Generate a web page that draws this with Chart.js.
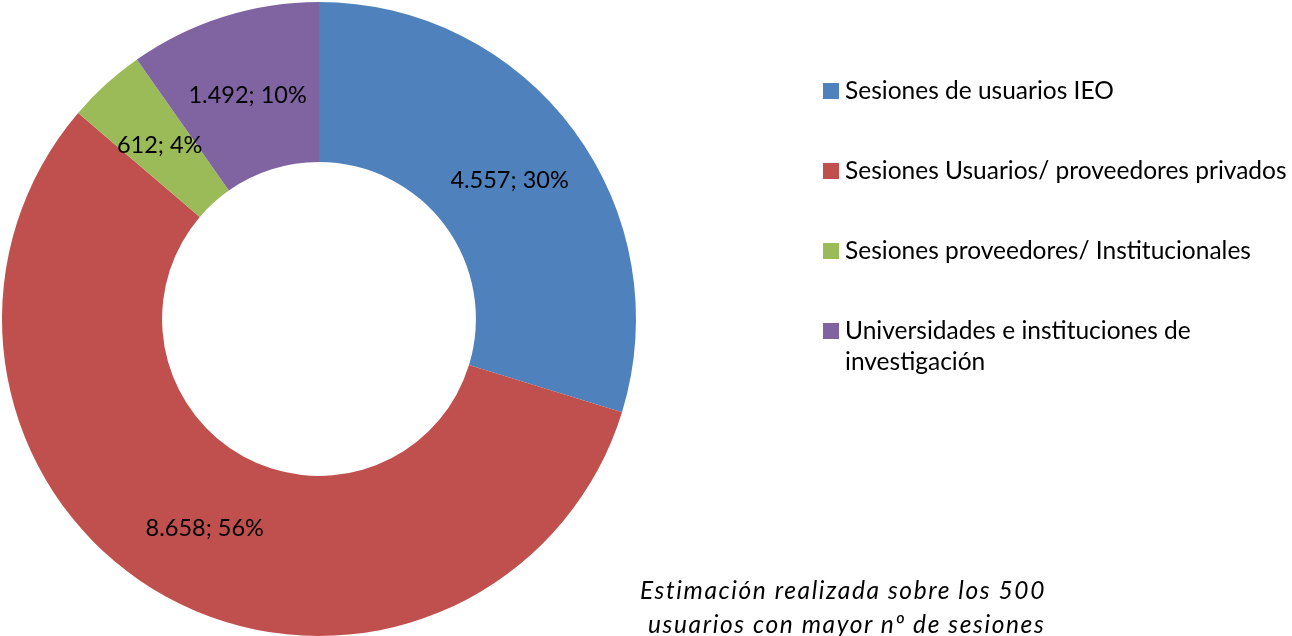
<!DOCTYPE html>
<html><head><meta charset="utf-8">
<script src="https://cdn.jsdelivr.net/npm/chart.js@4"></script>
<style>
html,body{margin:0;padding:0;background:#fff;overflow:hidden;}
#wrap{position:relative;width:1292px;height:636px;}
#c{position:absolute;left:0;top:0;}
.leg{position:absolute;left:823px;top:0;font-family:Lato,"Open Sans",sans-serif;font-size:24.5px;color:#000;}
.item{position:absolute;left:0;white-space:nowrap;}
.sw{position:absolute;left:0;top:9.5px;width:16px;height:16px;}
.txt{position:absolute;left:22px;top:0;line-height:31px;width:460px;white-space:normal;}
#note{position:absolute;left:600px;top:572.5px;width:486px;text-align:center;font-family:Lato,"Open Sans",sans-serif;font-style:italic;font-size:24.5px;letter-spacing:1.6px;line-height:34px;color:#000;white-space:pre;}
</style></head>
<body><div id="wrap"><canvas id="c" width="1292" height="636"></canvas><div class="leg" id="leg"></div><div id="note"></div></div>
<script>
const categories = ["Sesiones de usuarios IEO","Sesiones Usuarios/ proveedores privados","Sesiones proveedores/ Institucionales","Universidades e instituciones de investigación"];
const values = [4557, 8658, 612, 1492];
const valueLabels = ["4.557","8.658","612","1.492"];
const percentLabels = ["30%","56%","4%","10%"];
const colors = ["#4F81BD","#C0504D","#9BBB59","#8064A2"];
const noteText = "Estimación realizada sobre los 500\n usuarios con mayor nº de sesiones";

const FONT = 'Lato, "Open Sans", sans-serif';

const labelPlugin = {
  id:'sliceLabels',
  afterDatasetsDraw(chart){
    const ctx = chart.ctx;
    const meta = chart.getDatasetMeta(0);
    ctx.save();
    ctx.font = '23.5px ' + FONT;
    ctx.fillStyle = '#000';
    ctx.textAlign = 'center';
    ctx.textBaseline = 'middle';
    meta.data.forEach((arc,i)=>{
      const p = arc.tooltipPosition();
      ctx.fillText(valueLabels[i] + '; ' + percentLabels[i], p.x, p.y + 2);
    });
    ctx.restore();
  }
};

new Chart(document.getElementById('c'), {
  type:'doughnut',
  data:{labels:categories, datasets:[{data:values, backgroundColor:colors, borderWidth:0}]},
  options:{
    responsive:false, animation:false, cutout:'49.5%',
    layout:{padding:{left:2, right:656, top:2, bottom:0}},
    plugins:{legend:{display:false}, tooltip:{enabled:false}}
  },
  plugins:[labelPlugin]
});

const leg = document.getElementById('leg');
const tops = [73.5, 153.5, 233.5, 313.5];
categories.forEach((c,i)=>{
  const it = document.createElement('div');
  it.className='item'; it.style.top = tops[i]+'px';
  it.innerHTML = '<div class="sw" style="background:'+colors[i]+'"></div><div class="txt"></div>';
  it.querySelector('.txt').textContent = c;
  if(i===3) it.querySelector('.txt').style.width='380px';
  leg.appendChild(it);
});
document.getElementById('note').textContent = noteText;
</script></body></html>
